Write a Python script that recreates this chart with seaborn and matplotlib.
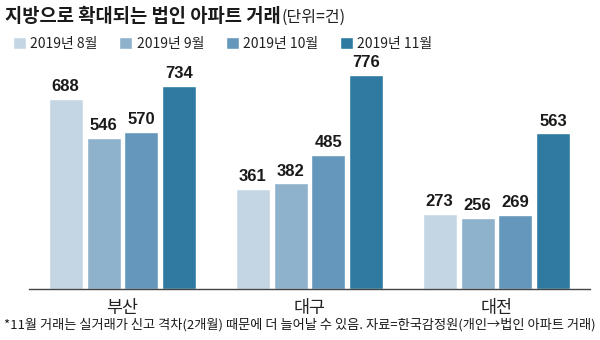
import matplotlib
matplotlib.use("Agg")
import matplotlib.pyplot as plt
import seaborn as sns
import pandas as pd

regions = ["부산", "대구", "대전"]
months = ["2019년 8월", "2019년 9월", "2019년 10월", "2019년 11월"]
v_aug = [688, 361, 273]
v_sep = [546, 382, 256]
v_oct = [570, 485, 269]
v_nov = [734, 776, 563]
colors = ["#c4d6e4", "#8eb1cc", "#6497bb", "#2e7aa1"]

title = "지방으로 확대되는 법인 아파트 거래"
unit = "(단위=건)"
note = "*11월 거래는 실거래가 신고 격차(2개월) 때문에 더 늘어날 수 있음. 자료=한국감정원(개인→법인 아파트 거래)"

rows = []
for m, vals in zip(months, [v_aug, v_sep, v_oct, v_nov]):
    for r, v in zip(regions, vals):
        rows.append({"region": r, "month": m, "value": v})
df = pd.DataFrame(rows)

sns.set_theme(style="white")
plt.rcParams["font.family"] = ["Noto Sans CJK KR", "DejaVu Sans"]

fig = plt.figure(figsize=(6, 3.4), dpi=100)
ax = fig.add_axes([29 / 600, 51 / 340, 561 / 600, 221 / 340])

sns.barplot(data=df, x="region", y="value", hue="month", order=regions,
            hue_order=months, palette=colors, width=0.81, gap=0.1,
            saturation=1, legend=True, ax=ax)

ax.set_ylim(0, 800)
ax.set_xlim(-0.5, 2.5)
ax.set_xlabel("")
ax.set_ylabel("")
ax.set_yticks([])
ax.tick_params(axis="x", length=0, pad=7, labelsize=12.5, colors="#222222")
for s in ["top", "right", "left"]:
    ax.spines[s].set_visible(False)
ax.spines["bottom"].set_color("#444444")
ax.spines["bottom"].set_linewidth(1.0)

for cont in ax.containers:
    for bar in cont:
        h = bar.get_height()
        ax.annotate(f"{int(h)}", (bar.get_x() + bar.get_width() / 2, h),
                    xytext=(0, 3.5), textcoords="offset points",
                    ha="center", va="bottom", fontsize=12, fontweight="bold",
                    family=["Liberation Sans", "DejaVu Sans"], color="#1a1a1a")

handles, labels = ax.get_legend_handles_labels()
ax.get_legend().remove()
fig.legend(handles, labels, loc="center left", bbox_to_anchor=(13 / 600, 1 - 44 / 340),
           ncol=4, frameon=False, handlelength=0.95, handleheight=0.95,
           handletextpad=0.3, columnspacing=1.55, borderaxespad=0, borderpad=0,
           prop={"size": 10}, labelcolor="#222222")

t = fig.text(5 / 600, 1 - 17 / 340, title, fontsize=13.5, fontweight="bold",
             va="center", ha="left", color="#1a1a1a")
fig.canvas.draw()
bb = t.get_window_extent()
fig.text(bb.x1 / 600 + 0.001, 1 - 17 / 340, unit, fontsize=11.5, va="center",
         ha="left", color="#222222")

fig.text(0.5, 1 - 325 / 340, note, fontsize=9.5, va="center", ha="center",
         color="#1a1a1a", family=["Noto Sans CJK KR", "DejaVu Sans"])

fig.savefig("out.png", dpi=100)
